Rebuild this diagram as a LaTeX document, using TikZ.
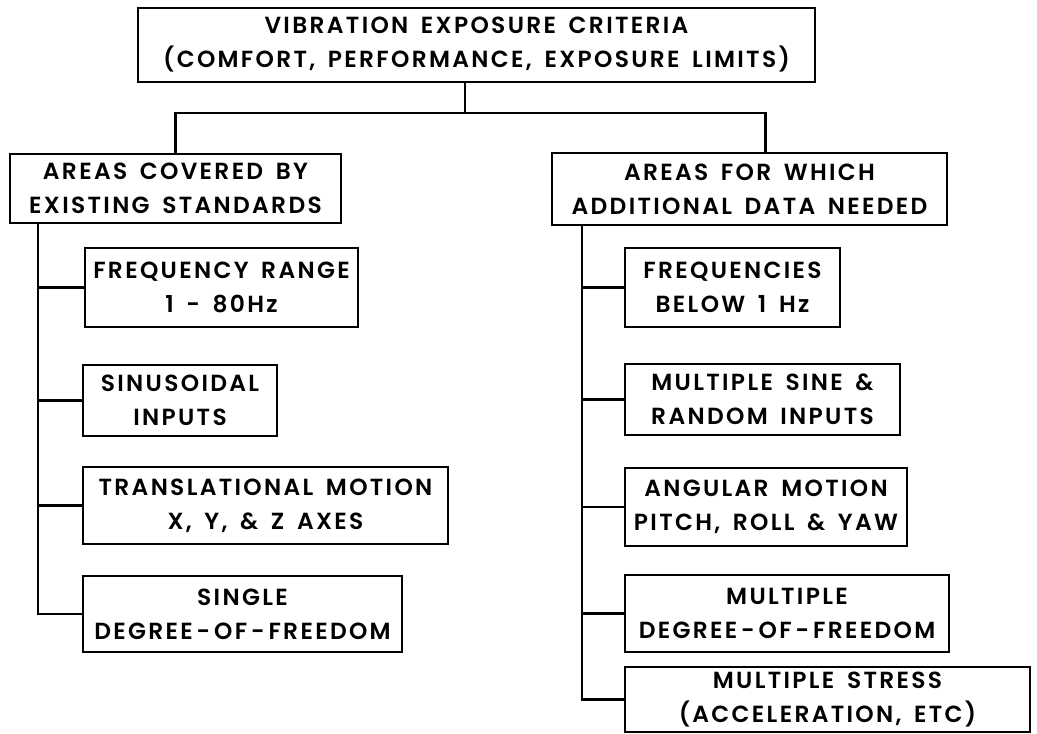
\documentclass[tikz,border=0pt]{standalone}
\usepackage{fontspec}
\setmainfont{Poppins}[UprightFont={* SemiBold}, LetterSpace=10, WordSpace=1.6]
\begin{document}
\begin{tikzpicture}[
    x=0.75pt, y=-0.75pt,
    box/.style={draw=black, line width=1.8pt, align=center, inner sep=0pt,
        font=\fontsize{17.5}{25.5}\selectfont},
    sz/.style 2 args={minimum width=#1*0.75pt, minimum height=#2*0.75pt},
    link/.style={line width=1.8pt}
]
\useasboundingbox (0,0) rectangle (1037,734);

%% top level
\node[box, sz={677}{74}] (crit) at (476.5,45) {VIBRATION EXPOSURE CRITERIA\\(COMFORT, PERFORMANCE, EXPOSURE LIMITS)};
\node[box, sz={331}{69}] (covered) at (175.5,188.5) {AREAS COVERED BY\\EXISTING STANDARDS};
\node[box, sz={395}{72}] (needed) at (749.5,189) {AREAS FOR WHICH\\ADDITIONAL DATA NEEDED};

%% existing standards
\node[box, sz={273}{79}] (freqrange) at (221.5,287.5) {FREQUENCY RANGE\\1 - 80Hz};
\node[box, sz={194}{71}] (sinus) at (180,400.5) {SINUSOIDAL\\INPUTS};
\node[box, sz={365}{77}] (transl) at (265.5,505.5) {TRANSLATIONAL MOTION\\X, Y, \& Z AXES};
\node[box, sz={319}{76}] (singledof) at (242.5,614) {SINGLE\\DEGREE\,-\,OF\,-\,FREEDOM};

%% additional data
\node[box, sz={215}{79}] (freqlow) at (732.5,287.5) {FREQUENCIES\\BELOW 1 Hz};
\node[box, sz={275}{71}] (multsine) at (762.5,399.5) {MULTIPLE SINE \&\\RANDOM INPUTS};
\node[box, sz={282}{78}] (angular) at (766,507) {ANGULAR MOTION\\PITCH, ROLL \& YAW};
\node[box, sz={324}{77}] (multdof) at (787,613.5) {MULTIPLE\\DEGREE\,-\,OF\,-\,FREEDOM};
\node[box, sz={405}{65}] (stress) at (827.5,699.5) {MULTIPLE STRESS\\(ACCELERATION, ETC)};

%% connectors
\coordinate (split) at (465,113);
\draw[link] (crit.south -| split) -- (split);
\draw[link] (covered.north) |- (split) -| ([xshift=12pt]needed.north);

\coordinate (ltrunk) at (38,223);
\draw[link] (ltrunk) |- (singledof.west);
\foreach \n in {freqrange,sinus,transl}
    \draw[link] (ltrunk |- \n.west) -- (\n.west);

\coordinate (rtrunk) at (582,225);
\draw[link] (rtrunk) |- (stress.west);
\foreach \n in {freqlow,multsine,angular,multdof}
    \draw[link] (rtrunk |- \n.west) -- (\n.west);
\end{tikzpicture}
\end{document}
